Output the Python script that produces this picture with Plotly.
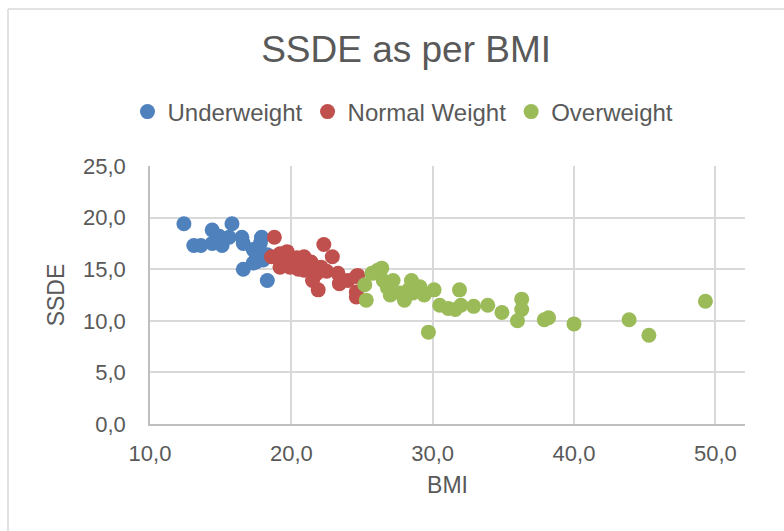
import plotly.graph_objects as go

# BMI / SSDE readings per weight class
under_bmi = [12.4, 15.8, 13.1, 13.6, 14.4, 14.4, 14.9, 15.1, 15.6, 16.5, 16.6, 16.6,
             17.3, 17.5, 17.9, 18.3, 18.3, 17.8, 17.9, 17.5, 18.0, 17.3]
under_ssde = [19.4, 19.4, 17.3, 17.3, 18.8, 17.5, 18.2, 17.3, 18.1, 18.1, 17.5, 15.0,
              16.9, 15.7, 18.1, 13.9, 16.4, 17.5, 18.0, 16.5, 15.9, 15.6]

normal_bmi = [18.8, 18.6, 19.2, 19.2, 19.7, 19.9, 20.4, 20.9, 21.4, 21.5, 21.9, 22.3,
              22.9, 22.5, 22.1, 23.3, 23.4, 24.0, 24.6, 24.7, 21.8, 20.9, 24.6, 24.6,
              19.5, 20.5]
normal_ssde = [18.1, 16.2, 16.5, 15.2, 16.7, 15.2, 16.1, 16.2, 15.7, 13.9, 13.0, 17.4,
               16.2, 14.8, 15.2, 14.6, 13.6, 13.9, 12.3, 14.4, 14.6, 14.9, 14.3, 12.8,
               15.6, 15.0]

over_bmi = [25.3, 25.2, 26.1, 26.4, 25.7, 26.5, 27.2, 27.0, 27.7, 28.0, 28.5, 28.6,
            29.1, 29.4, 30.1, 30.5, 31.1, 31.9, 32.0, 32.9, 29.7, 31.6, 33.9, 34.9,
            36.3, 36.3, 36.0, 37.9, 38.2, 40.0, 43.9, 45.3, 49.3, 28.3, 26.8]
over_ssde = [12.0, 13.5, 14.9, 15.1, 14.6, 13.9, 13.9, 12.5, 12.7, 12.0, 13.9, 12.7,
             13.3, 12.5, 13.0, 11.5, 11.2, 13.0, 11.5, 11.4, 8.9, 11.1, 11.5, 10.8,
             12.1, 11.1, 10.0, 10.1, 10.3, 9.7, 10.1, 8.6, 11.9, 13.0, 13.2]

series = [
    ("Underweight", under_bmi, under_ssde, "#4F81BD"),
    ("Normal Weight", normal_bmi, normal_ssde, "#C0504D"),
    ("Overweight", over_bmi, over_ssde, "#9BBB59"),
]

FONT = "Liberation Sans, Arial, sans-serif"
TXT = "#595959"
GRID = "#D9D9D9"

W, H = 784, 531
L, R, T, B = 150, 39, 166, 107
PW, PH = W - L - R, H - T - B

fig = go.Figure()
for name, xs, ys, col in series:
    fig.add_trace(go.Scatter(
        x=xs, y=ys, mode="markers", name=name,
        marker=dict(size=15, color=col, line=dict(width=0)),
    ))

fig.update_layout(
    width=W, height=H,
    margin=dict(l=L, r=R, t=T, b=B),
    paper_bgcolor="white", plot_bgcolor="white",
    separators=",.",
    font=dict(family=FONT, color=TXT, size=22),
    title=dict(text="SSDE as per BMI", x=0.518, xref="container", xanchor="center",
               y=1 - 49 / H, yref="container", yanchor="middle",
               font=dict(size=37, color=TXT, family=FONT)),
    legend=dict(orientation="h", x=0.514, xref="container", xanchor="center",
                y=1 - 112 / H, yref="container", yanchor="middle",
                font=dict(size=24, color=TXT, family=FONT),
                itemwidth=30, tracegroupgap=0, bgcolor="rgba(0,0,0,0)"),
    showlegend=True,
    # chart-area frame: only its left and top edges fall on the page
    shapes=[
        dict(type="line", xref="paper", yref="paper",
             x0=(8 - L) / PW, x1=(8 - L) / PW, y0=-(B + 20) / PH, y1=(T - 9) / PH + 1,
             line=dict(color=GRID, width=1.5), layer="below"),
        dict(type="line", xref="paper", yref="paper",
             x0=(8 - L) / PW, x1=(W + 20 - L) / PW, y0=(T - 9) / PH + 1, y1=(T - 9) / PH + 1,
             line=dict(color=GRID, width=1.5), layer="below"),
    ],
)

fig.update_xaxes(
    range=[10, 52.1], dtick=10, tick0=10, tickformat=".1f",
    showgrid=True, gridcolor=GRID, gridwidth=1.5,
    showline=True, linecolor="#BFBFBF", linewidth=1.5,
    zeroline=False, ticks="", ticklabelstandoff=9,
    tickfont=dict(size=22, color=TXT),
    title=dict(text="BMI", font=dict(size=23, color=TXT), standoff=12),
)
fig.update_yaxes(
    range=[0, 25], dtick=5, tick0=0, tickformat=".1f",
    showgrid=True, gridcolor=GRID, gridwidth=1.5,
    showline=True, linecolor="#BFBFBF", linewidth=1.5,
    zeroline=False, ticks="", ticklabelstandoff=18,
    tickfont=dict(size=22, color=TXT),
    title=dict(text="SSDE", font=dict(size=23, color=TXT), standoff=12),
)

fig.write_html("out.html")
